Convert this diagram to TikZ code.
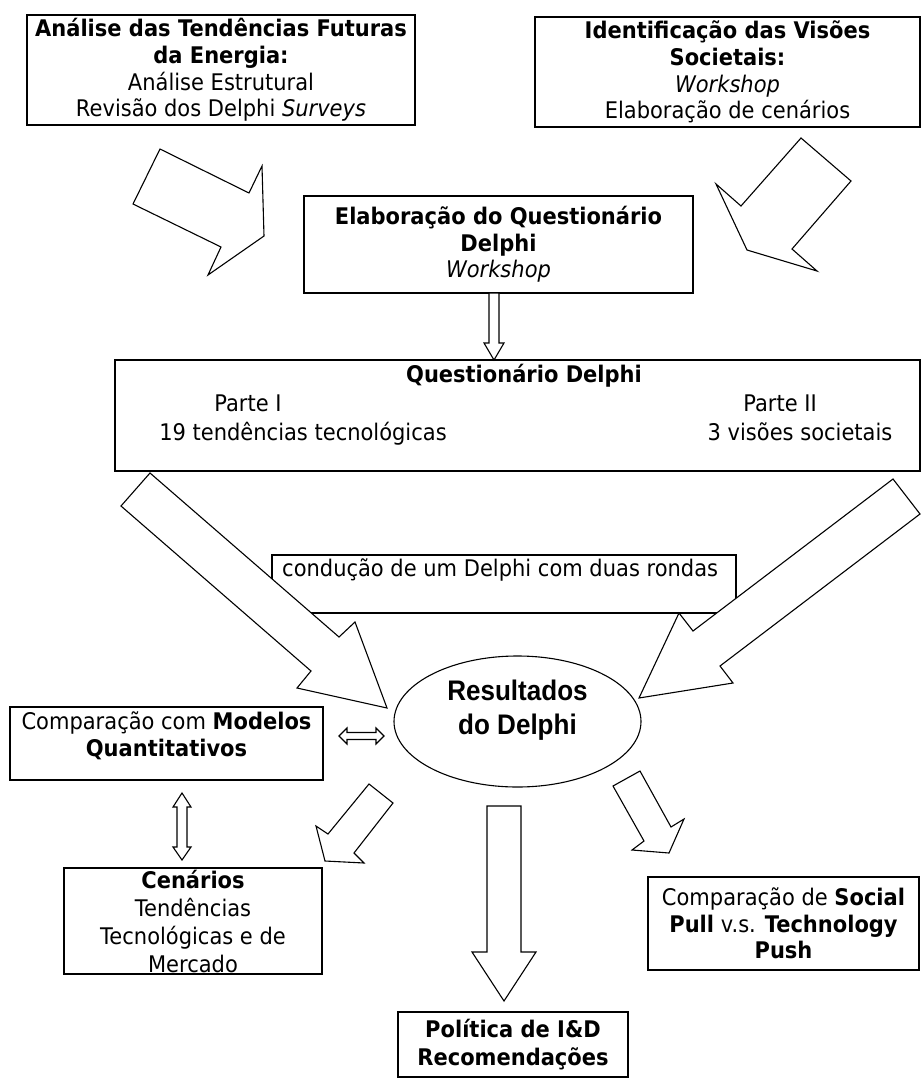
\documentclass[tikz,border=0pt]{standalone}
\usepackage{fontspec}
\setmainfont{DejaVu Sans}[FakeStretch=0.917]
\newfontfamily\arialfont{Liberation Sans}[FakeStretch=0.92]
\usepackage{tikz}
\usetikzlibrary{shapes.geometric}
\tikzset{
  cell/.style = {rectangle, draw, line width=1.5pt, align=center, inner sep=0pt},
  blk/.style = {draw, fill=white, line width=1.1pt, line join=miter},
  txt/.style = {inner sep=0pt, text height=16pt, text depth=5pt}
}

\begin{document}
\begin{tikzpicture}[x=1pt, y=-1pt,
    every node/.style={font=\fontsize{22.9}{26.7}\selectfont},
    ]
\useasboundingbox (0,0) rectangle (922,1079);

\node [cell, minimum width=388pt, minimum height=110pt] (n1) at (221,70)
  {\textbf{Análise das Tendências Futuras}\\ \textbf{da Energia:}\\ Análise Estrutural\\ Revisão dos Delphi \textit{Surveys}};
\node [cell, minimum width=385pt, minimum height=110pt] (n2) at (727.5,72)
  {\textbf{Identificação das Visões}\\ \textbf{Societais:}\\ \textit{Workshop}\\ Elaboração de cenários};
\node [cell, minimum width=389pt, minimum height=97pt] (n3) at (498.5,244.5)
  {\textbf{Elaboração do Questionário}\\ \textbf{Delphi}\\ \textit{Workshop}};

\node [cell, minimum width=805pt, minimum height=111pt] (n4) at (517.5,415.5) {};
\node [txt] (q1) at (524,377) {\textbf{Questionário Delphi}};
\node [txt] (p1) at (248,406) {Parte I};
\node [txt] (p2) at (780,406) {Parte II};
\node [txt] (t1) at (303,435) {19 tendências tecnológicas};
\node [txt] (t2) at (800,435) {3 visões societais};

\node [cell, minimum width=464pt, minimum height=58pt] (n5) at (504,584) {};
\node [txt, anchor=west] (c1) at (282,571) {condução de um Delphi com duas rondas};

\node [ellipse, draw, line width=1.1pt, minimum width=247pt, minimum height=131pt, inner sep=0pt] (n6) at (517.5,721.5) {};
\node [align=center, inner sep=0pt, font=\arialfont\bfseries\fontsize{28.3}{34}\selectfont] (r1) at (517.5,710) {Resultados\\do Delphi};

\node [cell, minimum width=313pt, minimum height=73pt, text depth=19pt] (n7) at (166.5,743.5)
  {Comparação com \textbf{Modelos}\\ \textbf{Quantitativos}};
\node [cell, minimum width=258pt, minimum height=106pt, font=\fontsize{22.9}{28}\selectfont] (n8) at (193,921)
  {\textbf{Cenários}\\ Tendências\\ Tecnológicas e de\\ Mercado};
\node [cell, minimum width=230pt, minimum height=65pt, font=\fontsize{22.9}{28}\selectfont] (n9) at (513,1044.5)
  {\textbf{Política de I\&D}\\ \textbf{Recomendações}};
\node [cell, minimum width=271pt, minimum height=93pt] (n10) at (783.5,923.5)
  {Comparação de \textbf{Social}\\ \textbf{Pull} v.s. \textbf{Technology}\\ \textbf{Push}};

% setas
\draw [blk] (160,149) -- (249,193) -- (262,166) -- (264,236) -- (208,275) -- (221,247) -- (133,204) -- cycle;
\draw [blk] (801,138) -- (851,181) -- (792,249) -- (817,271) -- (747,250) -- (716,184) -- (741,206) -- cycle;
\draw [blk] (489,293) -- (499,293) -- (499,343) -- (504,343) -- (494,360) -- (484,343) -- (489,343) -- cycle;
\draw [blk] (150,473) -- (339,637) -- (355,622) -- (387,708) -- (297,688) -- (311,671) -- (121,506) -- cycle;
\draw [blk] (893,479) -- (920,514) -- (720,666) -- (733,683) -- (639,698) -- (679,613) -- (693,631) -- cycle;
\draw [blk] (339,736) -- (347,728) -- (347,732.5) -- (376,732.5) -- (376,728) -- (384,736) -- (376,744) -- (376,739.5) -- (347,739.5) -- (347,744) -- cycle;
\draw [blk] (182,793) -- (191,807) -- (187,807) -- (187,847) -- (191,847) -- (182,860) -- (173,847) -- (177,847) -- (177,807) -- (173,807) -- cycle;
\draw [blk] (369,784) -- (393,803) -- (354,853) -- (364,863) -- (325,861) -- (316,826) -- (328,834) -- cycle;
\draw [blk] (487,806) -- (521,806) -- (521,952) -- (536,952) -- (504,1001) -- (472,952) -- (487,952) -- cycle;
\draw [blk] (613,786) -- (640,771) -- (671,827) -- (684,819) -- (669,853) -- (632,850) -- (644,841) -- cycle;

\end{tikzpicture}
\end{document}
